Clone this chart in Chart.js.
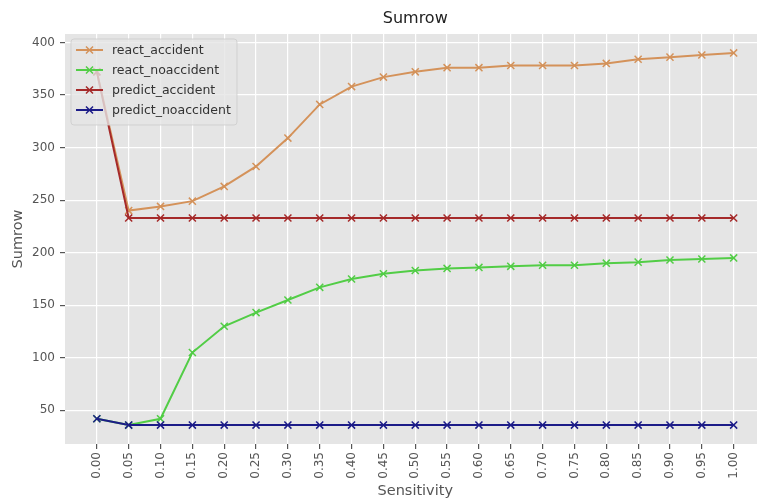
<!DOCTYPE html>
<html>
<head>
<meta charset="utf-8">
<script src="https://cdn.jsdelivr.net/npm/chart.js@4.4.0/dist/chart.umd.min.js"></script>
<style>
    html, body { margin: 0; padding: 0; background: #fff; overflow: hidden; }
    #wrap { width: 772px; height: 499px; position: relative; }
</style>
</head>
<body>
<div id="wrap"><canvas id="sumrowChart"></canvas></div>
<script>
// Dados
const sensitivity = [0.00, 0.05, 0.10, 0.15, 0.20, 0.25, 0.30, 0.35, 0.40, 0.45, 0.50,
                     0.55, 0.60, 0.65, 0.70, 0.75, 0.80, 0.85, 0.90, 0.95, 1.00];
const xTickLabels = ['0.00', '0.05', '0.10', '0.15', '0.20', '0.25', '0.30', '0.35', '0.40', '0.45', '0.50',
                     '0.55', '0.60', '0.65', '0.70', '0.75', '0.80', '0.85', '0.90', '0.95', '1.00'];
const yTicks = [50, 100, 150, 200, 250, 300, 350, 400];

const reactAccident   = [372, 240, 244, 249, 263, 282, 309, 341, 358, 367, 372, 376, 376, 378, 378, 378, 380, 384, 386, 388, 390];
const reactNoAccident = [42, 36, 42, 105, 130, 143, 155, 167, 175, 180, 183, 185, 186, 187, 188, 188, 190, 191, 193, 194, 195];
const predictAccident = [372, 233, 233, 233, 233, 233, 233, 233, 233, 233, 233, 233, 233, 233, 233, 233, 233, 233, 233, 233, 233];
const predictNoAccident = [42, 36, 36, 36, 36, 36, 36, 36, 36, 36, 36, 36, 36, 36, 36, 36, 36, 36, 36, 36, 36];

const seriesNames = ['react_accident', 'react_noaccident', 'predict_accident', 'predict_noaccident'];
const seriesValues = [reactAccident, reactNoAccident, predictAccident, predictNoAccident];
const seriesColors = ['#d4925a', '#52cd46', '#a52a2a', '#1c1c88'];

const FONT = "'DejaVu Sans', sans-serif";

function toPoints(values) {
    return values.map((v, i) => ({ x: sensitivity[i], y: v }));
}

const datasets = seriesNames.map((name, i) => ({
    label: name,
    data: toPoints(seriesValues[i]),
    borderColor: seriesColors[i],
    backgroundColor: seriesColors[i],
    borderWidth: 2,
    tension: 0,
    fill: false,
    pointStyle: 'crossRot',
    pointRadius: 5,
    pointHoverRadius: 5,
    pointBorderColor: seriesColors[i],
    pointBorderWidth: 1.5,
    order: seriesNames.length - i // ultima serie desenhada por cima
}));

// Titulo + legenda no estilo matplotlib
const decorPlugin = {
    id: 'decor',
    afterDraw(chart) {
        const ctx = chart.ctx;
        const area = chart.chartArea;

        ctx.save();
        ctx.fillStyle = '#222';
        ctx.font = '16px ' + FONT;
        ctx.textAlign = 'center';
        ctx.textBaseline = 'middle';
        ctx.fillText('Sumrow', (area.left + area.right) / 2, 19);

        // caixa da legenda
        const bx = area.left + 6, by = area.top + 5, bw = 166, bh = 86, r = 3;
        ctx.beginPath();
        ctx.moveTo(bx + r, by);
        ctx.lineTo(bx + bw - r, by);
        ctx.quadraticCurveTo(bx + bw, by, bx + bw, by + r);
        ctx.lineTo(bx + bw, by + bh - r);
        ctx.quadraticCurveTo(bx + bw, by + bh, bx + bw - r, by + bh);
        ctx.lineTo(bx + r, by + bh);
        ctx.quadraticCurveTo(bx, by + bh, bx, by + bh - r);
        ctx.lineTo(bx, by + r);
        ctx.quadraticCurveTo(bx, by, bx + r, by);
        ctx.closePath();
        ctx.fillStyle = 'rgba(229,229,229,0.8)';
        ctx.fill();
        ctx.strokeStyle = 'rgba(204,204,204,0.8)';
        ctx.lineWidth = 1;
        ctx.stroke();

        ctx.font = '12.5px ' + FONT;
        ctx.textAlign = 'left';
        chart.data.datasets.forEach((ds, i) => {
            const y = by + 11 + i * 20;
            const x0 = bx + 5, x1 = bx + 32, xm = (x0 + x1) / 2;
            ctx.strokeStyle = ds.borderColor;
            ctx.lineWidth = 2;
            ctx.beginPath();
            ctx.moveTo(x0, y);
            ctx.lineTo(x1, y);
            ctx.stroke();
            ctx.lineWidth = 1.5;
            ctx.beginPath();
            ctx.moveTo(xm - 3.5, y - 3.5);
            ctx.lineTo(xm + 3.5, y + 3.5);
            ctx.moveTo(xm + 3.5, y - 3.5);
            ctx.lineTo(xm - 3.5, y + 3.5);
            ctx.stroke();
            ctx.fillStyle = '#333';
            ctx.fillText(ds.label, bx + 41, y + 1);
        });
        ctx.restore();
    }
};

const bgPlugin = {
    id: 'plotBg',
    beforeDraw(chart) {
        const ctx = chart.ctx;
        const a = chart.chartArea;
        ctx.save();
        ctx.fillStyle = '#e5e5e5';
        ctx.fillRect(a.left, a.top, a.right - a.left, a.bottom - a.top);
        ctx.restore();
    }
};

new Chart(document.getElementById('sumrowChart'), {
    type: 'line',
    data: { datasets: datasets },
    options: {
        responsive: true,
        maintainAspectRatio: false,
        animation: false,
        layout: { padding: { top: 34, right: 3, left: 0, bottom: 0 } },
        plugins: {
            legend: { display: false },
            title: { display: false },
            tooltip: { enabled: false }
        },
        scales: {
            x: {
                type: 'linear',
                min: -0.05,
                max: 1.05,
                afterBuildTicks: (axis) => { axis.ticks = sensitivity.map(v => ({ value: v })); },
                afterFit: (axis) => { axis.height = 55; },
                ticks: {
                    autoSkip: false,
                    minRotation: 90,
                    maxRotation: 90,
                    padding: 3,
                    color: '#555',
                    font: { family: FONT, size: 12 },
                    callback: (val, i) => xTickLabels[i]
                },
                grid: { color: '#ffffff', lineWidth: 1.2, tickColor: '#555', tickLength: 5 },
                border: { display: false },
                title: {
                    display: true,
                    text: 'Sensitivity',
                    color: '#555',
                    font: { family: FONT, size: 14.5, lineHeight: 1.1 },
                    padding: { top: 0, bottom: 0 }
                }
            },
            y: {
                min: 18,
                max: 408,
                afterBuildTicks: (axis) => { axis.ticks = yTicks.map(v => ({ value: v })); },
                afterFit: (axis) => { axis.width = 65; },
                ticks: {
                    padding: 5,
                    color: '#555',
                    font: { family: FONT, size: 12 },
                    callback: (val) => String(val)
                },
                grid: { color: '#ffffff', lineWidth: 1.2, tickColor: '#555', tickLength: 5 },
                border: { display: false },
                title: {
                    display: true,
                    text: 'Sumrow',
                    color: '#555',
                    font: { family: FONT, size: 14.5, lineHeight: 1.1 },
                    padding: { top: 10, bottom: 0 }
                }
            }
        }
    },
    plugins: [bgPlugin, decorPlugin]
});
</script>
</body>
</html>
